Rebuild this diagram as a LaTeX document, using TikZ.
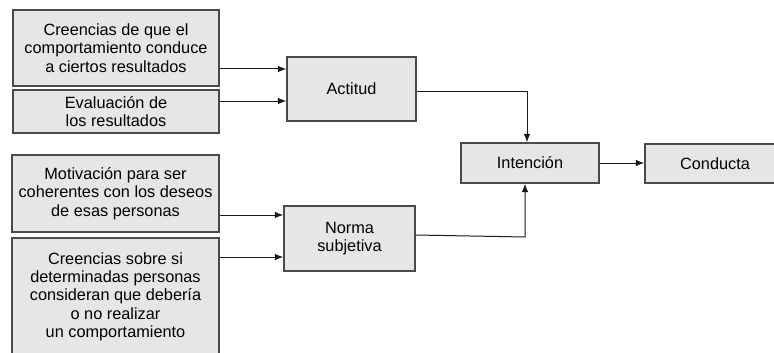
\documentclass[tikz,border=0pt]{standalone}
\usepackage{fontspec}
\setmainfont{Liberation Sans}
\usetikzlibrary{arrows.meta}
\definecolor{boxfill}{HTML}{E6E6E6}
\definecolor{boxline}{HTML}{4A4A4A}
\definecolor{arrline}{HTML}{1A1A1A}
\begin{document}
\begin{tikzpicture}[x=1pt,y=-1pt,
  box/.style={draw=boxline,line width=1.2pt,fill=boxfill,inner sep=0pt,align=center,
    font=\fontsize{16.3}{18.3}\selectfont,text=black},
  arr/.style={draw=arrline,line width=1pt,-{Latex[length=8.5pt,width=6.5pt]}}]
\useasboundingbox (0,0) rectangle (774,353);
\node[box,minimum width=206pt,minimum height=76pt] (b1) at (116,48)
  {Creencias de que el\\comportamiento conduce\\a ciertos resultados};
\node[box,minimum width=206pt,minimum height=43pt] (b2) at (116,111.5)
  {Evaluación de\\los resultados};
\node[box,minimum width=207pt,minimum height=77pt] (b3) at (115.5,193.5)
  {Motivación para ser\\coherentes con los deseos\\de esas personas};
\node[box,minimum width=207pt,minimum height=117pt] (b4) at (115.5,296.5)
  {Creencias sobre si\\determinadas personas\\consideran que debería\\o no realizar\\un comportamiento};
\node[box,minimum width=129pt,minimum height=64pt] (act) at (351.5,89) {Actitud};
\node[box,minimum width=131pt,minimum height=65pt] (norma) at (349.5,238.5) {Norma\\subjetiva};
\node[box,minimum width=138pt,minimum height=40pt] (int) at (530,163) {Intención};
\node[box,minimum width=140pt,minimum height=39pt] (cond) at (715,163.5) {Conducta};
\coordinate (ca) at (527,92);
\coordinate (cn) at (525,237);
\draw[arr] (b1.east |- 0,69) -- (act.west |- 0,69);
\draw[arr] (b2.east |- 0,101) -- (act.west |- 0,101);
\draw[arr] (b3.east |- 0,215) -- (norma.west |- 0,215);
\draw[arr] (b4.east |- 0,257) -- (norma.west |- 0,257);
\draw[arr] (act.east |- ca) -- (ca) -- (ca |- int.north);
\draw[arr] (norma.east |- 0,235) -- (cn) -- (cn |- int.south);
\draw[arr] (int.east) -- (cond.west |- int.east);
\end{tikzpicture}
\end{document}
